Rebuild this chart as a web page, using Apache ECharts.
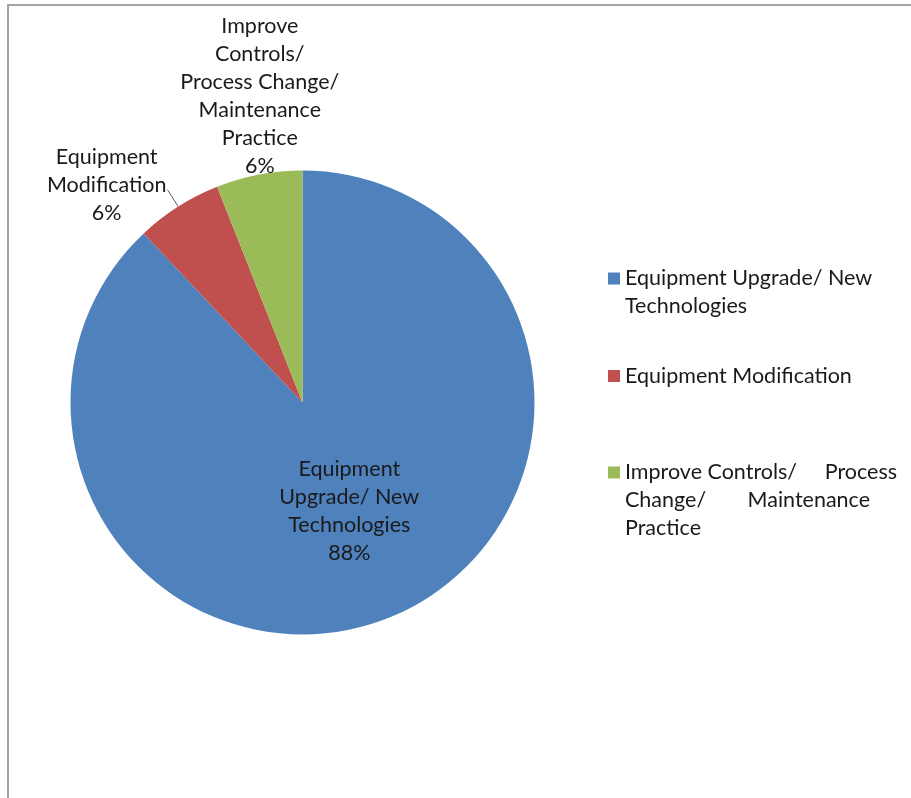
<!DOCTYPE html>
<html>
<head>
<meta charset="utf-8">
<script src="https://cdn.jsdelivr.net/npm/echarts@6/dist/echarts.min.js"></script>
<style>
html, body { margin: 0; padding: 0; background: #fff; }
#frame { position: absolute; left: 7px; top: 4px; width: 904px; height: 794px; border-top: 2px solid #a3a3a3; border-left: 2px solid #a3a3a3; box-sizing: border-box; }
#chart { position: absolute; left: 0; top: 0; width: 911px; height: 798px; }
</style>
</head>
<body>
<div id="frame"></div>
<div id="chart"></div>
<script>
// ---- data ----
const categories = [
  'Equipment Upgrade/ New Technologies',
  'Equipment Modification',
  'Improve Controls/ Process Change/ Maintenance Practice'
];
const shares = [88, 6, 6];
const colors = ['#4F81BD', '#C0504D', '#9BBB59'];
// wrapped label text for the slices
const pieLabelLines = [
  ['Equipment', 'Upgrade/ New', 'Technologies'],
  ['Equipment', 'Modification'],
  ['Improve', 'Controls/', 'Process Change/', 'Maintenance', 'Practice']
];
// wrapped legend text: each line is [left part, right part (justified)]
const legendLines = [
  [['Equipment Upgrade/ New'], ['Technologies']],
  [['Equipment Modification']],
  [['Improve Controls/', 'Process'], ['Change/', 'Maintenance'], ['Practice']]
];

const FONT = 'Lato';
const FS = 21.5;
const LH = 28;
const TXT = '#1a1a1a';

function pieFormatter(p) {
  const lines = pieLabelLines[p.dataIndex].concat([Math.round(p.percent) + '%']);
  return lines.map(l => '{c|' + l + '}').join('\n');
}

function legendFormatter(idx) {
  return function () {
    const lines = legendLines[idx];
    const out = [];
    // empty lines above so the icon sits beside the first line
    for (let i = 1; i < lines.length; i++) out.push('{e| }');
    lines.forEach((parts, li) => {
      if (parts.length === 2) {
        out.push('{l|' + parts[0] + '}{' + (li === 0 ? 'r' : 'r2') + '|' + parts[1] + '}');
      } else {
        out.push('{l|' + parts[0] + '}');
      }
    });
    return out.join('\n');
  };
}

const richLegend = {
  e: { fontFamily: FONT, fontSize: FS, lineHeight: LH, color: TXT },
  l: { fontFamily: FONT, fontSize: FS, lineHeight: LH, color: TXT, align: 'left' },
  r: { fontFamily: FONT, fontSize: FS, lineHeight: LH, color: TXT, align: 'right' },
  r2: { fontFamily: FONT, fontSize: FS, lineHeight: LH, color: TXT, align: 'right', padding: [0, 27, 0, 0] }
};

const legendTops = [236.5, 362, 402.5];
const legends = categories.map((name, i) => ({
  orient: 'vertical',
  left: 608,
  top: legendTops[i],
  padding: 0,
  icon: 'rect',
  itemWidth: 12,
  itemHeight: 12,
  selectedMode: false,
  data: [name],
  formatter: legendFormatter(i),
  textStyle: Object.assign({ fontFamily: FONT, fontSize: FS, lineHeight: LH, color: TXT, rich: richLegend },
    i === 2 ? { width: 272 } : {})
}));

const chart = echarts.init(document.getElementById('chart'), null, { renderer: 'canvas' });
chart.setOption({
  backgroundColor: 'transparent',
  animation: false,
  legend: legends,
  series: [{
    type: 'pie',
    center: [302.5, 402.5],
    radius: 232,
    startAngle: 90,
    clockwise: true,
    avoidLabelOverlap: false,
    itemStyle: { borderWidth: 0 },
    data: categories.map((name, i) => ({
      name: name,
      value: shares[i],
      itemStyle: { color: colors[i] },
      label: { position: i === 0 ? 'inside' : 'outside' },
      labelLine: { show: i === 1 }
    })),
    label: {
      formatter: pieFormatter,
      fontFamily: FONT,
      fontSize: FS,
      lineHeight: LH,
      color: TXT,
      rich: { c: { fontFamily: FONT, fontSize: FS, lineHeight: LH, color: TXT, align: 'center' } }
    },
    labelLine: {
      length: 20,
      length2: 0,
      lineStyle: { color: '#595959', width: 1 }
    },
    labelLayout: function (p) {
      if (p.dataIndex === 2) {
        return { x: p.rect.x + p.rect.width / 2, y: p.rect.y + 10, align: 'center', verticalAlign: 'bottom' };
      }
      if (p.dataIndex === 1) {
        return { dx: 4, dy: -5 };
      }
      return { dx: 3, dy: -2 };
    }
  }]
});
</script>
</body>
</html>
